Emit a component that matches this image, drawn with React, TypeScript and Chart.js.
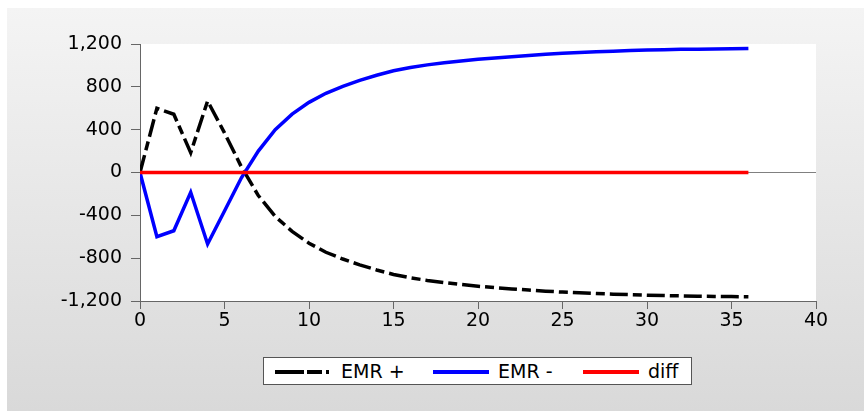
import { useEffect, useRef } from "react";
import { Chart, registerables } from "chart.js";

Chart.register(...registerables);

/* ================= DATA ================= */

const periods = [
  0, 1, 2, 3, 4, 5, 6, 7, 8, 9, 10, 11, 12, 13, 14, 15, 16, 17, 18, 19, 20,
  21, 22, 23, 24, 25, 26, 27, 28, 29, 30, 31, 32, 33, 34, 35, 36,
];

const emrPlus = [
  0, 600, 544, 185, 668, 370, 52, -215, -410, -550, -660, -745, -808, -862,
  -910, -952, -983, -1008, -1028, -1046, -1062, -1075, -1087, -1098, -1108,
  -1117, -1124, -1130, -1136, -1141, -1146, -1149, -1152, -1155, -1157,
  -1159, -1161,
];

const emrMinus = [
  0, -600, -544, -185, -668, -360, -49, 200, 400, 545, 655, 740, 805, 860,
  908, 950, 980, 1005, 1025, 1042, 1057, 1070, 1082, 1093, 1104, 1113, 1120,
  1127, 1133, 1139, 1144, 1147, 1150, 1152, 1154, 1156, 1158,
];

const diff = [
  0, 0, 0, 0, 0, 0, 0, 0, 0, 0, 0, 0, 0, 0, 0, 0, 0, 0, 0, 0, 0, 0, 0, 0, 0,
  0, 0, 0, 0, 0, 0, 0, 0, 0, 0, 0, 0,
];

const yTicks = [-1200, -800, -400, 0, 400, 800, 1200];
const xTicks = [0, 5, 10, 15, 20, 25, 30, 35, 40];

const FONT = "'DejaVu Sans', Arial, sans-serif";

/* ================= PLUGINS ================= */

const plotBackground = {
  id: "plotBackground",
  beforeDraw(chart: Chart) {
    const { ctx, chartArea } = chart;
    ctx.save();
    ctx.fillStyle = "#ffffff";
    ctx.fillRect(
      chartArea.left,
      chartArea.top,
      chartArea.right - chartArea.left,
      chartArea.bottom - chartArea.top
    );
    ctx.restore();
  },
};

export default function App() {
  const canvasRef = useRef<HTMLCanvasElement>(null);

  useEffect(() => {
    document.body.style.margin = "0";
    if (!canvasRef.current) return;

    const toPoints = (values: number[]) =>
      periods.map((p, i) => ({ x: p, y: values[i] }));

    const chart = new Chart(canvasRef.current, {
      type: "line",
      data: {
        datasets: [
          {
            label: "EMR +",
            data: toPoints(emrPlus),
            borderColor: "#000000",
            borderWidth: 3.5,
            borderDash: [18, 5, 9, 5],
            pointRadius: 0,
            tension: 0,
            order: 2,
          },
          {
            label: "EMR -",
            data: toPoints(emrMinus),
            borderColor: "#0000ff",
            borderWidth: 3.5,
            pointRadius: 0,
            tension: 0,
            order: 1,
          },
          {
            label: "diff",
            data: toPoints(diff),
            borderColor: "#ff0000",
            borderWidth: 3.5,
            pointRadius: 0,
            tension: 0,
            order: 0,
          },
        ],
      },
      options: {
        responsive: false,
        animation: false,
        devicePixelRatio: 1,
        layout: { padding: { left: 0, right: 48, top: 44, bottom: 70 } },
        plugins: {
          legend: { display: false },
          tooltip: { enabled: false },
        },
        scales: {
          x: {
            type: "linear",
            min: 0,
            max: 40,
            afterBuildTicks: (axis: any) => {
              axis.ticks = xTicks.map((v) => ({ value: v }));
            },
            afterFit: (axis: any) => {
              axis.height = 40;
            },
            ticks: {
              color: "#000000",
              font: { family: FONT, size: 19 },
              padding: 1,
              maxRotation: 0,
            },
            grid: {
              drawOnChartArea: false,
              tickLength: 8,
              tickColor: "#666666",
            },
            border: { color: "#666666", width: 1 },
          },
          y: {
            min: -1200,
            max: 1200,
            afterBuildTicks: (axis: any) => {
              axis.ticks = yTicks.map((v) => ({ value: v }));
            },
            afterFit: (axis: any) => {
              axis.width = 140;
            },
            ticks: {
              color: "#000000",
              font: { family: FONT, size: 19 },
              padding: 9,
              callback: (v: any) => Number(v).toLocaleString("en-US"),
            },
            grid: {
              color: (ctx: any) =>
                ctx.tick && ctx.tick.value === 0 ? "#808080" : "rgba(0,0,0,0)",
              lineWidth: 1,
              tickLength: 9,
              tickColor: "#666666",
            },
            border: { color: "#666666", width: 1 },
          },
        },
      },
      plugins: [plotBackground],
    });

    return () => chart.destroy();
  }, []);

  /* ================= UI ================= */

  const legendText = {
    position: "absolute" as const,
    top: 359,
    fontFamily: FONT,
    fontSize: 19,
    lineHeight: "24px",
    color: "#000",
    whiteSpace: "nowrap" as const,
  };

  return (
    <div
      style={{
        position: "fixed",
        left: 0,
        top: 0,
        width: 864,
        height: 411,
        background: "#ffffff",
        overflow: "hidden",
      }}
    >
      <div
        style={{
          position: "absolute",
          left: 7,
          top: 8,
          width: 857,
          height: 403,
          background: "linear-gradient(#f4f4f4, #d9d9d9)",
        }}
      />
      <canvas
        ref={canvasRef}
        width={864}
        height={411}
        style={{ position: "absolute", left: 0, top: 0 }}
      />
      <div
        style={{
          position: "absolute",
          left: 263,
          top: 357,
          width: 427,
          height: 26,
          border: "1px solid #555",
          background: "#ffffff",
        }}
      />
      <svg
        width={864}
        height={411}
        style={{ position: "absolute", left: 0, top: 0 }}
      >
        <line
          x1={275}
          y1={372}
          x2={332}
          y2={372}
          stroke="#000"
          strokeWidth={4}
          strokeDasharray="29 3 15 4 3 3"
        />
        <line x1={433} y1={372} x2={489} y2={372} stroke="#0000ff" strokeWidth={4} />
        <line x1={583} y1={372} x2={639} y2={372} stroke="#ff0000" strokeWidth={4} />
      </svg>
      <span style={{ ...legendText, left: 341 }}>EMR +</span>
      <span style={{ ...legendText, left: 498 }}>EMR -</span>
      <span style={{ ...legendText, left: 648 }}>diff</span>
    </div>
  );
}
